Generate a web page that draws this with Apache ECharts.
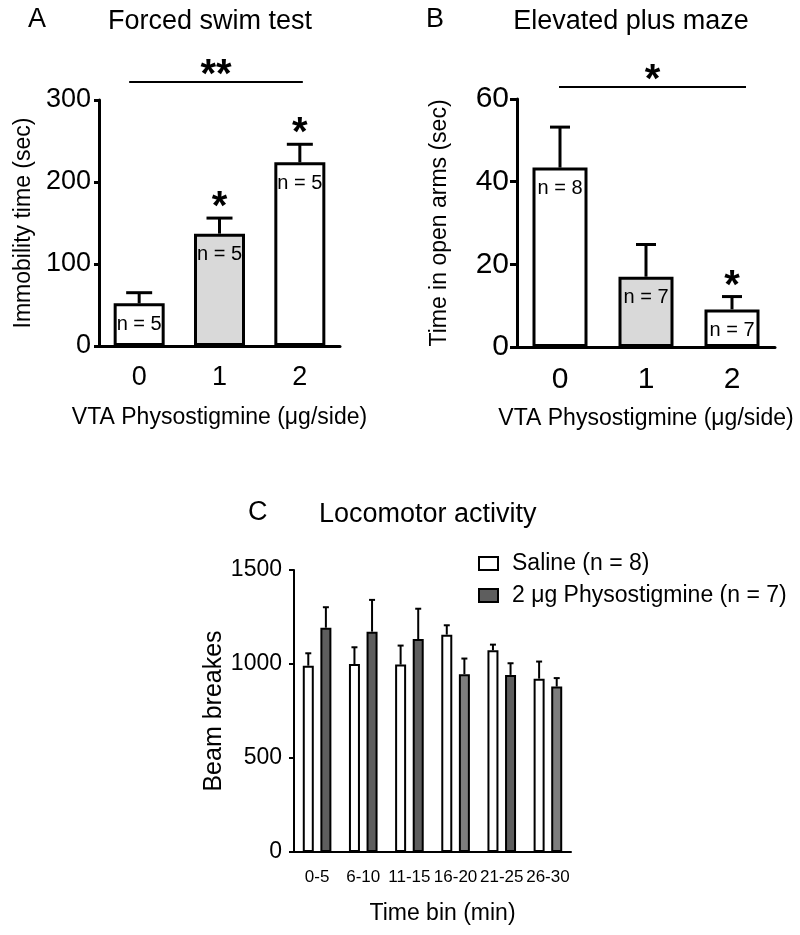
<!DOCTYPE html>
<html><head><meta charset="utf-8">
<script src="https://cdn.jsdelivr.net/npm/echarts@6/dist/echarts.min.js"></script>
<style>html,body{margin:0;padding:0;background:#fff}#c{width:800px;height:935px}</style>
</head><body><div id="c"></div>
<script>
// ---- data ----
const doseCats = ['0', '1', '2'];
const fstMean = [52, 137, 224];
const fstErrTop = [65, 156, 246];
const fstN = ['n = 5', 'n = 5', 'n = 5'];
const fstStars = ['', '*', '*'];
const epmMean = [43.4, 17.0, 9.1];
const epmErrTop = [53.2, 24.8, 12.2];
const epmN = ['n = 8', 'n = 7', 'n = 7'];
const epmStars = ['', '', '*'];
const doseFill = ['#ffffff', '#d9d9d9', '#ffffff'];

const timeBins = ['0-5', '6-10', '11-15', '16-20', '21-25', '26-30'];
const salineMean = [991, 1000, 997, 1156, 1073, 922];
const salineErrTop = [1057, 1089, 1098, 1206, 1103, 1013];
const physoMean = [1193, 1172, 1133, 946, 942, 880];
const physoErrTop = [1302, 1341, 1294, 1029, 1004, 925];
const physoFill = ['#5e5e5e', '#5e5e5e', '#5e5e5e', '#7e7e7e', '#5e5e5e', '#7e7e7e'];

const sigA = [[0, 2, 322, '**']];
const sigB = [[0, 2, 62.9, '*']];

// ---- helpers ----
const FONT = "'Liberation Sans', Arial, Helvetica, sans-serif";

function errSeries(gi, means, tops, capW, lw, offset) {
  return {
    type: 'custom', xAxisIndex: gi, yAxisIndex: gi, z: 1, silent: true,
    data: means.map((m, i) => [i, m, tops[i]]),
    encode: { x: 0, y: [1, 2] },
    renderItem: (p, api) => {
      const a = api.coord([api.value(0), api.value(1)]);
      const b = api.coord([api.value(0), api.value(2)]);
      const x = a[0] + offset;
      return { type: 'group', children: [
        { type: 'line', shape: { x1: x, y1: a[1], x2: x, y2: b[1] }, style: { stroke: '#000', lineWidth: lw } },
        { type: 'line', shape: { x1: x - capW / 2, y1: b[1], x2: x + capW / 2, y2: b[1] }, style: { stroke: '#000', lineWidth: lw } }
      ]};
    }
  };
}
function starSeries(gi, tops, stars, gap) {
  return {
    type: 'custom', xAxisIndex: gi, yAxisIndex: gi, z: 5, silent: true,
    data: tops.map((t, i) => [i, t]),
    encode: { x: 0, y: 1 },
    renderItem: (p, api) => {
      const s = stars[p.dataIndex];
      if (!s) return null;
      const b = api.coord([api.value(0), api.value(1)]);
      return { type: 'text', style: { text: s, x: b[0], y: b[1] - gap, textAlign: 'center', textVerticalAlign: 'middle',
        font: "bold 40px " + FONT, fill: '#000' } };
    }
  };
}
function sigSeries(gi, data, dxL, dxR, textDy) {
  return {
    type: 'custom', xAxisIndex: gi, yAxisIndex: gi, z: 5, silent: true,
    data: data, encode: { x: [0, 1], y: 2 },
    renderItem: (p, api) => {
      const a = api.coord([api.value(0), api.value(2)]);
      const b = api.coord([api.value(1), api.value(2)]);
      const x1 = a[0] + dxL, x2 = b[0] + dxR;
      return { type: 'group', children: [
        { type: 'line', shape: { x1: x1, y1: a[1], x2: x2, y2: a[1] }, style: { stroke: '#000', lineWidth: 2 } },
        { type: 'text', style: { text: data[p.dataIndex][3], x: (x1 + x2) / 2, y: a[1] + textDy, textAlign: 'center',
          textVerticalAlign: 'middle', font: "bold 40px " + FONT, fill: '#000' } }
      ]};
    }
  };
}
function catAxis(gi, cats, fs, margin, tickLen, lw, name, nameGap, nameFs, namePad) {
  return {
    gridIndex: gi, type: 'category', data: cats,
    axisLine: { lineStyle: { color: '#000', width: lw } },
    axisTick: { alignWithLabel: true, length: tickLen, lineStyle: { color: '#000', width: lw } },
    axisLabel: { color: '#000', fontSize: fs, fontFamily: FONT, margin: margin, interval: 0 },
    name: name, nameLocation: 'middle', nameGap: nameGap,
    nameTextStyle: { color: '#000', fontSize: nameFs, fontFamily: FONT, padding: namePad || 0 }
  };
}
function valAxis(gi, max, interval, fs, margin, tickLen, lw, name, nameGap, nameFs) {
  return {
    gridIndex: gi, type: 'value', min: 0, max: max, interval: interval,
    splitLine: { show: false },
    axisLine: { show: true, lineStyle: { color: '#000', width: lw } },
    axisTick: { show: true, length: tickLen, lineStyle: { color: '#000', width: lw } },
    axisLabel: { color: '#000', fontSize: fs, fontFamily: FONT, margin: margin, formatter: v => String(v) },
    name: name, nameLocation: 'middle', nameGap: nameGap,
    nameTextStyle: { color: '#000', fontSize: nameFs, fontFamily: FONT }
  };
}

const chart = echarts.init(document.getElementById('c'), null, { renderer: 'canvas' });
const option = {
  animation: false,
  backgroundColor: '#fff',
  textStyle: { fontFamily: FONT },
  grid: [
    { left: 99, top: 100, width: 241, height: 246 },
    { left: 517, top: 99, width: 258, height: 248 },
    { left: 294, top: 570, width: 277, height: 282 }
  ],
  xAxis: [
    catAxis(0, doseCats, 27, 18, 9, 3, 'VTA Physostigmine (\u03bcg/side)', 60, 23),
    catAxis(1, doseCats, 30, 18, 9, 3, 'VTA Physostigmine (\u03bcg/side)', 60, 23),
    catAxis(2, timeBins, 17, 17, 7, 2, 'Time bin (min)', 50, 23, [0, 0, 0, 20])
  ],
  yAxis: [
    valAxis(0, 300, 100, 27, 8, 5, 3, 'Immobility time (sec)', 64, 23),
    valAxis(1, 60, 20, 30, 8, 7, 3, 'Time in open arms (sec)', 66, 23),
    valAxis(2, 1500, 500, 23, 12, 5, 2, 'Beam breakes', 65, 25)
  ],
  legend: {
    orient: 'vertical', left: 478, top: 552, padding: 0, itemGap: 9,
    itemWidth: 19, itemHeight: 13, icon: 'rect',
    textStyle: { color: '#000', fontSize: 23, fontFamily: FONT, padding: [0, 0, 0, 9] },
    data: ['Saline (n = 8)', '2 \u03bcg Physostigmine (n = 7)']
  },
  series: [
    {
      type: 'bar', xAxisIndex: 0, yAxisIndex: 0, barWidth: 51, z: 2,
      data: fstMean.map((v, i) => ({ value: v, itemStyle: { color: doseFill[i] } })),
      itemStyle: { borderColor: '#000', borderWidth: 3 },
      label: { show: true, position: 'insideTop', distance: 11, color: '#000', fontSize: 20, fontFamily: FONT,
        formatter: p => fstN[p.dataIndex] }
    },
    errSeries(0, fstMean, fstErrTop, 26, 3, 0),
    starSeries(0, fstErrTop, fstStars, 10),
    sigSeries(0, sigA, -10, 3, -6),
    {
      type: 'bar', xAxisIndex: 1, yAxisIndex: 1, barWidth: 55, z: 2,
      data: epmMean.map((v, i) => ({ value: v, itemStyle: { color: doseFill[i] } })),
      itemStyle: { borderColor: '#000', borderWidth: 3 },
      label: { show: true, position: 'insideTop', distance: 11, color: '#000', fontSize: 20, fontFamily: FONT,
        formatter: p => epmN[p.dataIndex] }
    },
    errSeries(1, epmMean, epmErrTop, 20, 3, 0),
    starSeries(1, epmErrTop, epmStars, 10),
    sigSeries(1, sigB, -1, 14, -6),
    {
      name: 'Saline (n = 8)', type: 'bar', xAxisIndex: 2, yAxisIndex: 2, barWidth: 11, barGap: '60%', z: 2,
      data: salineMean,
      itemStyle: { color: '#ffffff', borderColor: '#000', borderWidth: 2 }
    },
    {
      name: '2 \u03bcg Physostigmine (n = 7)', type: 'bar', xAxisIndex: 2, yAxisIndex: 2, barWidth: 11, barGap: '60%', z: 2,
      data: physoMean.map((v, i) => ({ value: v, itemStyle: { color: physoFill[i] } })),
      itemStyle: { color: '#5e5e5e', borderColor: '#000', borderWidth: 2 }
    },
    errSeries(2, salineMean, salineErrTop, 6, 2, -8.8),
    errSeries(2, physoMean, physoErrTop, 6, 2, 8.8)
  ],
  graphic: [
    { type: 'text', left: 28, top: 6, style: { text: 'A', font: "27px " + FONT, fill: '#000' } },
    { type: 'text', x: 210, y: 22, style: { text: 'Forced swim test', font: "27px " + FONT, fill: '#000', textAlign: 'center', textVerticalAlign: 'middle' } },
    { type: 'text', left: 426, top: 6, style: { text: 'B', font: "27px " + FONT, fill: '#000' } },
    { type: 'text', x: 631, y: 22, style: { text: 'Elevated plus maze', font: "27px " + FONT, fill: '#000', textAlign: 'center', textVerticalAlign: 'middle' } },
    { type: 'text', left: 248, top: 499, style: { text: 'C', font: "27px " + FONT, fill: '#000' } },
    { type: 'text', x: 319, y: 515, style: { text: 'Locomotor activity', font: "27px " + FONT, fill: '#000', textAlign: 'left', textVerticalAlign: 'middle' } }
  ]
};
chart.setOption(option);
</script>
</body></html>
